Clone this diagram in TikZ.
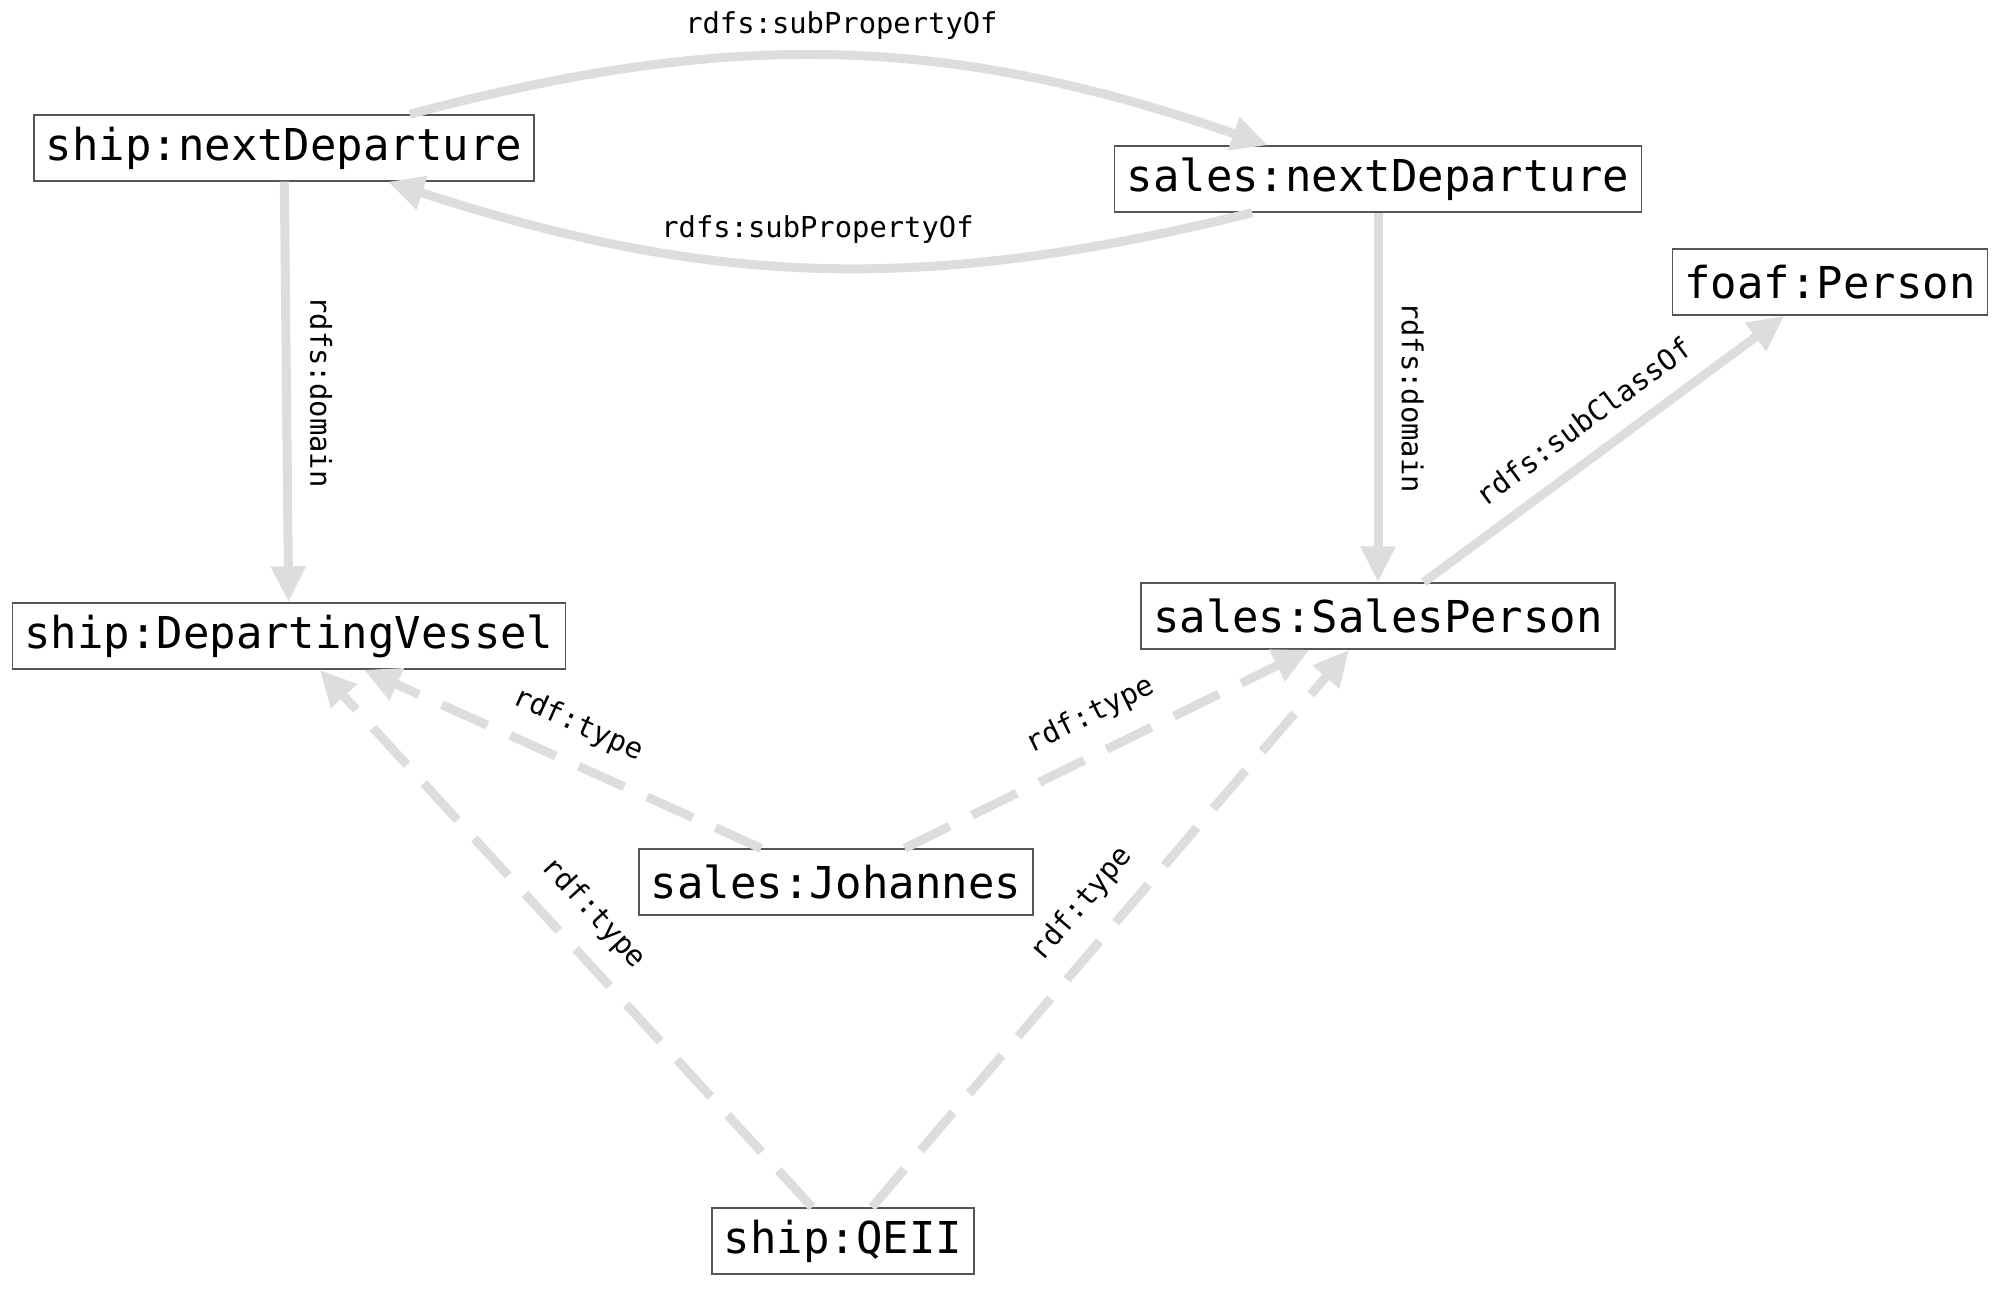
\documentclass[tikz,border=0pt]{standalone}
\usepackage{fontspec}
\setmonofont{DejaVu Sans Mono}
\usetikzlibrary{arrows.meta}

\definecolor{edgegray}{RGB}{221,221,221}
\definecolor{boxgray}{RGB}{85,85,85}

\begin{document}
\begin{tikzpicture}[
    resource/.style={draw=boxgray, line width=0.4pt, fill=white, inner xsep=0.12cm, inner ysep=0pt,
      minimum height=0.66cm, font=\ttfamily\fontsize{12.5}{15}\selectfont},
    prop/.style={draw=edgegray, line width=0.09cm, -{Triangle[length=0.36cm, width=0.33cm]}},
    typeof/.style={prop, dash pattern=on 0.5cm off 0.25cm},
    lbl/.style={font=\ttfamily\fontsize{8.2}{10}\selectfont, inner sep=0.19cm, text=black},
  ]
    \useasboundingbox (0,0) rectangle (19.99,12.89);

    % Properties (top row)
    \node[resource] (shipND)  at (2.84,11.41)  {ship:nextDeparture};
    \node[resource] (salesND) at (13.78,11.10) {sales:nextDeparture};
    % Classes
    \node[resource] (person)  at (18.30,10.07) {foaf:Person};
    \node[resource] (salesP)  at (13.78,6.73)  {sales:SalesPerson};
    \node[resource] (vessel)  at (2.89,6.53)   {ship:DepartingVessel};
    % Instances
    \node[resource] (johannes) at (8.36,4.07)  {sales:Johannes};
    \node[resource] (qeii)     at (8.43,0.48)  {ship:QEII};

    % subPropertyOf, both ways
    \draw[prop] (shipND.15) to[bend left=17] node[lbl, above, yshift=-0.07cm] {rdfs:subPropertyOf} (salesND.163);
    \draw[prop] (salesND.195) to[bend left=16] node[lbl, above] {rdfs:subPropertyOf} (shipND.-18);

    % Domains (labels turned along the line)
    \draw[prop] (shipND) -- node[lbl, rotate=-90, anchor=south] {rdfs:domain} (vessel);
    \draw[prop] (salesND) -- node[lbl, rotate=-90, anchor=south] {rdfs:domain} (salesP);

    % subClassOf
    \draw[prop] (salesP) -- node[lbl, sloped, above] {rdfs:subClassOf} (person);

    % rdf:type links (dashed)
    \foreach \inst/\cls in {johannes/vessel, johannes/salesP, qeii/vessel, qeii/salesP}
      \draw[typeof] (\inst) -- node[lbl, sloped, above] {rdf:type} (\cls);
\end{tikzpicture}
\end{document}
